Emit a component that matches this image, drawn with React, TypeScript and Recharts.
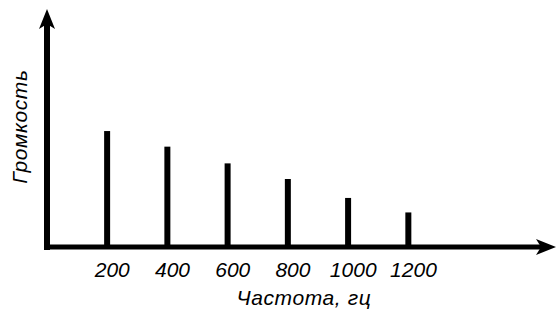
import { BarChart, Bar, XAxis, YAxis } from "recharts";

// частоты гармоник и их громкость (в условных единицах)
const freqs = [200, 400, 600, 800, 1000, 1200];
const loudness = [52, 45, 37.5, 30.5, 22, 15.5];
const tickLabels = ["200", "400", "600", "800", "1000", "1200"];

const xTitle = "Частота, гц";
const yTitle = "Громкость";

const data = freqs.map((f, i) => ({ freq: f, value: loudness[i] }));

const FONT = "'Liberation Sans', Arial, sans-serif";

const FreqTick = (props: any) => {
  const { x, y, payload } = props;
  const idx = freqs.indexOf(payload.value);
  return (
    <text
      x={x + 5}
      y={y}
      dy={30}
      textAnchor="middle"
      fontFamily={FONT}
      fontStyle="italic"
      fontSize={21}
      fill="#000"
    >
      {idx >= 0 ? tickLabels[idx] : payload.value}
    </text>
  );
};

const XTitle = (props: any) => {
  const vb = props.viewBox;
  return (
    <text
      x={vb.x + vb.width * 0.52}
      y={vb.y + 58}
      textAnchor="middle"
      fontFamily={FONT}
      fontStyle="italic"
      fontSize={21}
      letterSpacing={0.6}
      fill="#000"
    >
      {xTitle}
    </text>
  );
};

const YTitle = (props: any) => {
  const vb = props.viewBox;
  const cx = vb.x - 26;
  const cy = vb.y + vb.height * 0.46;
  return (
    <text
      x={cx}
      y={cy}
      transform={`rotate(-90 ${cx} ${cy})`}
      textAnchor="middle"
      dominantBaseline="central"
      fontFamily={FONT}
      fontStyle="italic"
      fontSize={21}
      letterSpacing={0.6}
      fill="#000"
    >
      {yTitle}
    </text>
  );
};

export default function App() {
  return (
    <div
      style={{
        position: "absolute",
        left: 0,
        top: 0,
        width: 557,
        height: 309,
        background: "#fff",
      }}
    >
      {/* стрелки на концах осей */}
      <svg width={0} height={0} style={{ position: "absolute" }}>
        <defs>
          <marker
            id="arrow"
            markerUnits="userSpaceOnUse"
            markerWidth={22}
            markerHeight={18}
            refX={5}
            refY={8}
            orient="auto-start-reverse"
          >
            <path d="M0,0 L20,8 L0,16 L5,8 Z" fill="#000" />
          </marker>
        </defs>
      </svg>
      <BarChart
        width={557}
        height={309}
        data={data}
        margin={{ top: 24, right: 16, bottom: 0, left: 46 }}
      >
        <XAxis
          dataKey="freq"
          type="number"
          domain={[0, 1640]}
          ticks={freqs}
          height={62}
          tickLine={false}
          tickSize={0}
          tickMargin={0}
          tick={<FreqTick />}
          axisLine={{ stroke: "#000", strokeWidth: 5, markerEnd: "url(#arrow)" }}
          label={XTitle}
        />
        <YAxis
          type="number"
          domain={[0, 100]}
          width={1}
          tick={false}
          tickLine={false}
          axisLine={{
            stroke: "#000",
            strokeWidth: 6,
            strokeLinecap: "square",
            markerStart: "url(#arrow)",
          }}
          label={YTitle}
        />
        <Bar dataKey="value" fill="#000" barSize={6} isAnimationActive={false} />
      </BarChart>
    </div>
  );
}
